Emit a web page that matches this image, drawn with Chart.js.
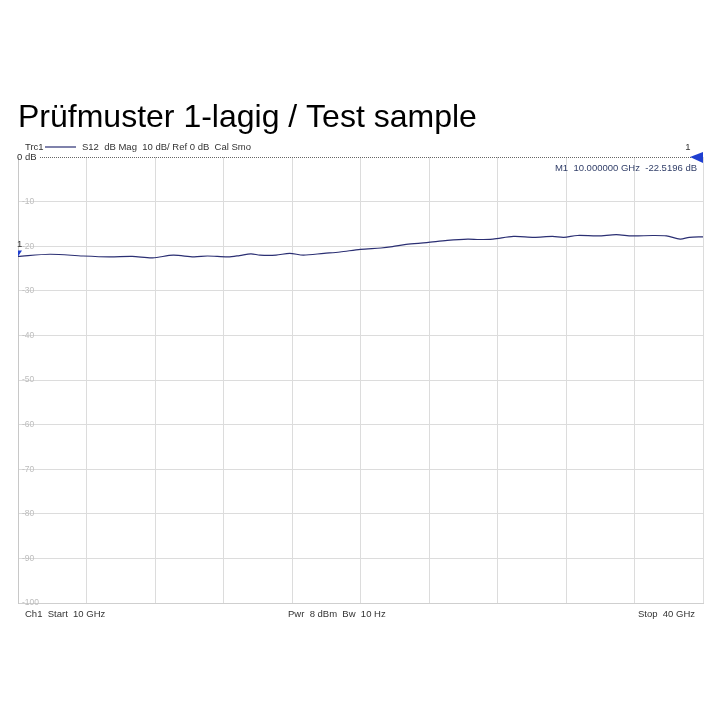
<!DOCTYPE html>
<html>
<head>
<meta charset="utf-8">
<script src="https://cdn.jsdelivr.net/npm/chart.js@4.4.1/dist/chart.umd.min.js"></script>
<style>
  body { margin: 0; background: #fff; }
  #wrap { width: 720px; height: 720px; position: relative; }
</style>
</head>
<body>
<div id="wrap"><canvas id="myChart" width="720" height="720"></canvas></div>
<script>
// sweep 10..40 GHz, S12 in dB
const freqGHz = [10.0, 11.4, 12.85, 14.0, 15.0, 15.9, 16.8, 17.7, 18.3, 19.2, 19.7, 20.2, 20.6, 21.3, 21.9, 22.5, 23.4, 24.1, 25.0, 25.9, 26.4, 27.0, 27.9, 28.8, 29.7, 30.2, 30.8, 31.7, 32.6, 33.4, 33.9, 34.5, 35.4, 36.2, 36.9, 37.8, 38.4, 39.0, 39.4, 40.0];
const s12dB = [-22.3, -21.8, -22.2, -22.4, -22.3, -22.6, -22.0, -22.4, -22.2, -22.4, -22.1, -21.7, -22.0, -22.0, -21.6, -22.0, -21.6, -21.3, -20.7, -20.4, -20.1, -19.6, -19.2, -18.7, -18.4, -18.5, -18.4, -17.8, -18.0, -17.8, -18.0, -17.6, -17.7, -17.4, -17.7, -17.6, -17.7, -18.4, -18.0, -17.9];
const yTicks = [0, -10, -20, -30, -40, -50, -60, -70, -80, -90, -100];

const chartTitle = 'Prüfmuster 1-lagig / Test sample';
const traceInfo = 'S12  dB Mag  10 dB/ Ref 0 dB  Cal Smo';
const markerText = 'M1  10.000000 GHz  -22.5196 dB';
const footLeft = 'Ch1  Start  10 GHz';
const footMid = 'Pwr  8 dBm  Bw  10 Hz';
const footRight = 'Stop  40 GHz';

const traceColor = '#2b2f73';
const smallFont = '9.5px "Liberation Sans", Arial, sans-serif';

const analyzerText = {
    id: 'analyzerText',
    afterDraw(chart) {
        const ctx = chart.ctx;
        const area = chart.chartArea;
        const x = chart.scales.x;
        const y = chart.scales.y;
        ctx.save();

        // title
        ctx.fillStyle = '#000';
        ctx.font = '32px "Liberation Sans", Arial, sans-serif';
        ctx.textBaseline = 'alphabetic';
        ctx.textAlign = 'left';
        ctx.fillText(chartTitle, 18, 127);

        // trace header
        ctx.font = smallFont;
        ctx.fillStyle = '#333';
        ctx.textBaseline = 'middle';
        ctx.fillText('Trc1', 25, 147);
        ctx.strokeStyle = traceColor;
        ctx.lineWidth = 1.2;
        ctx.beginPath();
        ctx.moveTo(45, 147);
        ctx.lineTo(76, 147);
        ctx.stroke();
        ctx.fillText(traceInfo, 82, 147);

        // reference line at 0 dB (dotted)
        const y0 = y.getPixelForValue(0);
        ctx.strokeStyle = '#666';
        ctx.lineWidth = 1;
        ctx.setLineDash([1, 1]);
        ctx.beginPath();
        ctx.moveTo(40, y0 + 0.5);
        ctx.lineTo(area.right, y0 + 0.5);
        ctx.stroke();
        ctx.setLineDash([]);
        ctx.fillStyle = '#333';
        ctx.fillText('0 dB', 17, y0);

        // reference marker on the right
        ctx.fillStyle = '#1f3fd0';
        ctx.beginPath();
        ctx.moveTo(area.right - 13, y0);
        ctx.lineTo(area.right, y0 - 5);
        ctx.lineTo(area.right, y0 + 6);
        ctx.closePath();
        ctx.fill();
        ctx.fillStyle = '#333';
        ctx.textAlign = 'center';
        ctx.fillText('1', area.right - 15, y0 - 10);

        // marker readout
        ctx.textAlign = 'right';
        ctx.fillStyle = '#33406a';
        ctx.fillText(markerText, area.right - 6, y0 + 11);

        // marker M1 at start of trace
        const mx = x.getPixelForValue(freqGHz[0]);
        const my = y.getPixelForValue(s12dB[0]);
        ctx.fillStyle = '#1f3fd0';
        ctx.beginPath();
        ctx.moveTo(mx, my - 6);
        ctx.lineTo(mx + 4, my - 6);
        ctx.lineTo(mx, my);
        ctx.closePath();
        ctx.fill();
        ctx.fillStyle = '#333';
        ctx.textAlign = 'left';
        ctx.fillText('1', mx - 1, my - 12);

        // footer
        ctx.fillStyle = '#333';
        ctx.font = '9.5px "Liberation Sans", Arial, sans-serif';
        ctx.textAlign = 'left';
        ctx.fillText(footLeft, 25, 614);
        ctx.fillText(footMid, 288, 614);
        ctx.textAlign = 'right';
        ctx.fillText(footRight, 695, 614);

        ctx.restore();
    }
};

const ctx = document.getElementById('myChart').getContext('2d');
const myChart = new Chart(ctx, {
    type: 'line',
    data: {
        datasets: [{
            label: 'Trc1 S12',
            data: freqGHz.map((f, i) => ({ x: f, y: s12dB[i] })),
            borderColor: traceColor,
            borderWidth: 1.2,
            pointRadius: 0,
            tension: 0.3,
            fill: false
        }]
    },
    options: {
        responsive: false,
        animation: false,
        layout: {
            padding: { left: 10, right: 17, top: 157, bottom: 117 }
        },
        plugins: {
            legend: { display: false },
            tooltip: { enabled: false }
        },
        scales: {
            x: {
                type: 'linear',
                min: 10,
                max: 40,
                ticks: { display: false, stepSize: 3 },
                grid: { color: '#dcdcdc', drawTicks: false },
                border: { color: '#cfcfcf' }
            },
            y: {
                min: -100,
                max: 0,
                afterBuildTicks: axis => {
                    axis.ticks = yTicks.map(v => ({ value: v }));
                },
                ticks: {
                    mirror: true,
                    padding: 4,
                    color: '#bdbdbd',
                    font: { size: 8.5, family: '"Liberation Sans", Arial, sans-serif' },
                    callback: v => (v === 0 ? '' : String(v))
                },
                grid: {
                    color: c => (c.tick && c.tick.value === 0 ? 'rgba(0,0,0,0)' : '#dcdcdc'),
                    drawTicks: false
                },
                border: { color: '#c8c8c8' }
            }
        }
    },
    plugins: [analyzerText]
});
</script>
</body>
</html>
